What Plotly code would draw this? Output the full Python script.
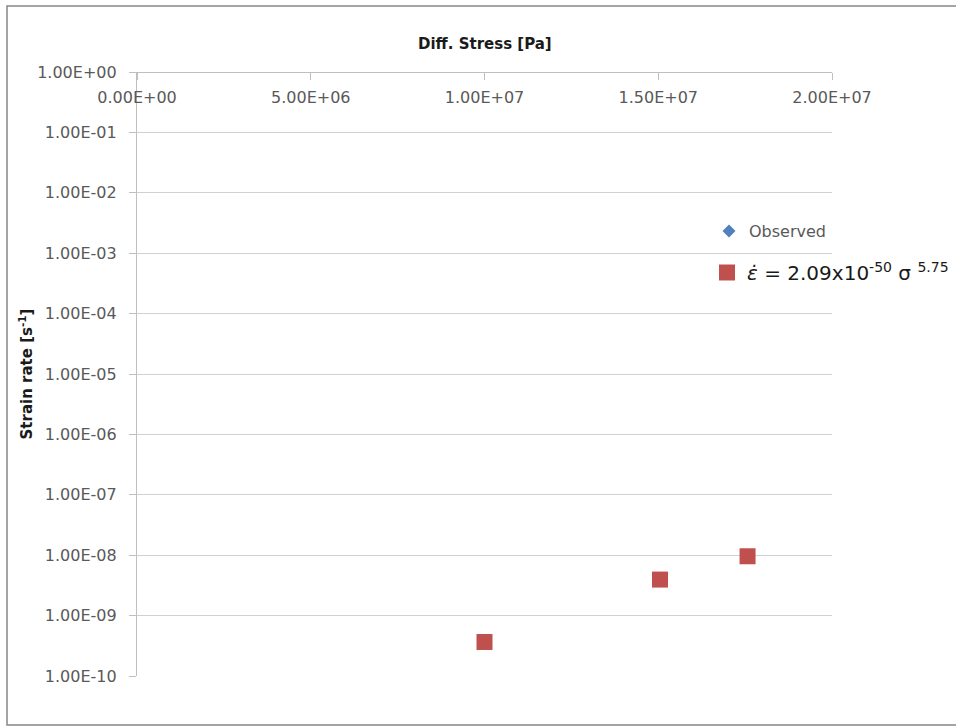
import plotly.graph_objects as go

# Differential stress [Pa] and strain rate [1/s]
stress = [1.00e7, 1.505e7, 1.757e7]
observed_rate = [3.66e-10, 3.95e-9, 9.6e-9]
model_rate = [3.66e-10, 3.95e-9, 9.6e-9]

x_tickvals = [0, 5e6, 1e7, 1.5e7, 2e7]
x_ticktext = ["0.00E+00", "5.00E+06", "1.00E+07", "1.50E+07", "2.00E+07"]
y_tickvals = [10.0 ** k for k in range(0, -11, -1)]
y_ticktext = ["1.00E+00", "1.00E-01", "1.00E-02", "1.00E-03", "1.00E-04", "1.00E-05",
              "1.00E-06", "1.00E-07", "1.00E-08", "1.00E-09", "1.00E-10"]

W, H = 956, 726
L, R, T, B = 137, 832, 72, 676

FONT = "DejaVu Sans"
GRID = "#d0d0d0"
AXIS = "#bfbfbf"
TXT = "#595959"

fig = go.Figure()
fig.add_trace(go.Scatter(
    x=stress, y=observed_rate, mode="markers", name="Observed",
    marker=dict(symbol="diamond", size=10, color="#4f81bd"),
    legend="legend",
))
fig.add_trace(go.Scatter(
    x=stress, y=model_rate, mode="markers",
    name="<i>ε̇</i> = 2.09x10<sup>-50</sup> σ <sup>5.75</sup>",
    marker=dict(symbol="square", size=16, color="#c0504d"),
    legend="legend2",
))

fig.update_layout(
    width=W, height=H,
    margin=dict(l=L, r=W - R, t=T, b=H - B, autoexpand=False),
    paper_bgcolor="white", plot_bgcolor="white",
    font=dict(family=FONT, size=15, color=TXT),
    # stress axis runs along the top edge, labels hang below its line
    xaxis=dict(
        range=[0, 2e7], side="bottom", anchor="free", position=1,
        tickvals=x_tickvals, ticktext=x_ticktext,
        ticks="outside", ticklen=7, tickcolor=AXIS, tickwidth=1.3,
        showline=True, linecolor=AXIS, linewidth=1.3,
        showgrid=False, zeroline=False,
        ticklabelstandoff=4,
        tickfont=dict(family=FONT, size=16, color=TXT),
    ),
    yaxis=dict(
        type="log", range=[-10, 0],
        tickvals=y_tickvals, ticktext=y_ticktext,
        ticks="outside", ticklen=7, tickcolor=AXIS, tickwidth=1.3,
        showline=True, linecolor=AXIS, linewidth=1.3,
        showgrid=True, gridcolor=GRID, gridwidth=1.3,
        zeroline=False,
        ticklabelstandoff=9,
        tickfont=dict(family=FONT, size=16, color=TXT),
        title=dict(text="<b>Strain rate [s<sup>-1</sup>]</b>", standoff=0,
                   font=dict(family=FONT, size=15, color="#1a1a1a")),
    ),
    legend=dict(
        xref="container", yref="container",
        x=709 / W, y=1 - 214 / H, xanchor="left", yanchor="top",
        bgcolor="rgba(0,0,0,0)", borderwidth=0,
        font=dict(family=FONT, size=16, color=TXT),
    ),
    legend2=dict(
        xref="container", yref="container",
        x=707 / W, y=1 - 253 / H, xanchor="left", yanchor="top",
        bgcolor="rgba(0,0,0,0)", borderwidth=0,
        font=dict(family=FONT, size=20, color="#1a1a1a"),
    ),
    showlegend=True,
)

# Axis title for the stress axis, centred over the plot
fig.add_annotation(
    text="<b>Diff. Stress [Pa]</b>", xref="paper", yref="paper",
    x=(485 - L) / (R - L), y=(B - 44) / (B - T), showarrow=False,
    xanchor="center", yanchor="middle",
    font=dict(family=FONT, size=15, color="#1a1a1a"),
)

# Outer chart frame
pw, ph = R - L, B - T
fig.add_shape(
    type="rect", xref="paper", yref="paper",
    x0=(7 - L) / pw, x1=(962 - L) / pw,
    y0=(B - 725) / ph, y1=(B - 6) / ph,
    line=dict(color="#868686", width=1.5), fillcolor="rgba(0,0,0,0)", layer="below",
)

fig.write_html("out.html")
